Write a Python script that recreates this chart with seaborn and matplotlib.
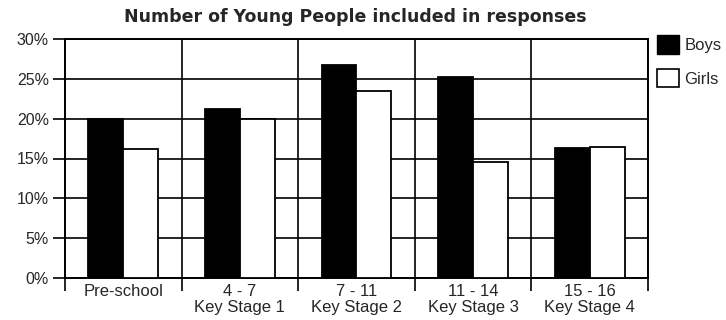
import matplotlib
matplotlib.use("Agg")
import matplotlib.pyplot as plt
import matplotlib.patches as mpatches
import seaborn as sns
import pandas as pd

categories = ["Pre-school", "4 - 7\nKey Stage 1", "7 - 11\nKey Stage 2",
              "11 - 14\nKey Stage 3", "15 - 16\nKey Stage 4"]
boys = [20.0, 21.2, 26.7, 25.2, 16.3]
girls = [16.2, 19.9, 23.5, 14.6, 16.4]
y_ticks = [0, 5, 10, 15, 20, 25, 30]
y_labels = ["0%", "5%", "10%", "15%", "20%", "25%", "30%"]

df = pd.DataFrame({
    "Stage": categories * 2,
    "Percent": boys + girls,
    "Sex": ["Boys"] * len(boys) + ["Girls"] * len(girls),
})

sns.set_style("white")
plt.rcParams["font.family"] = ["Liberation Sans", "DejaVu Sans"]

fig = plt.figure(figsize=(7.26, 3.2), dpi=100)
ax = fig.add_axes([65 / 726, 1 - 278 / 320, 583 / 726, 239 / 320])

sns.barplot(data=df, x="Stage", y="Percent", hue="Sex", order=categories,
            hue_order=["Boys", "Girls"], palette={"Boys": "black", "Girls": "white"},
            width=0.6, edgecolor="black", linewidth=1.3, saturation=1,
            legend=False, ax=ax, zorder=3)

n = len(categories)
ax.set_xlim(-0.5, n - 0.5)
ax.set_ylim(0, 30)

# boundaries between stages carry the vertical grid and the outward ticks
bounds = [i - 0.5 for i in range(n + 1)]
ax.set_xticks(bounds)
ax.set_xticklabels([""] * len(bounds))
ax.set_xticks(range(n), minor=True)
ax.set_xticklabels(categories, minor=True, fontsize=12, linespacing=1.1)
ax.tick_params(axis="x", which="major", direction="out", length=9, width=1.2,
               color="black", bottom=True)
ax.tick_params(axis="x", which="minor", length=0, pad=4, bottom=True)

ax.set_yticks(y_ticks)
ax.set_yticklabels(y_labels, fontsize=11.5)
ax.tick_params(axis="y", direction="out", length=8.5, width=1.2, color="black",
               left=True, pad=3)

ax.set_axisbelow(True)
ax.grid(True, which="major", color="black", linewidth=1.2)
for s in ax.spines.values():
    s.set_visible(True)
    s.set_color("black")
    s.set_linewidth(1.4)

ax.set_xlabel("")
ax.set_ylabel("")

fig.text(355 / 726, 1 - 17 / 320, "Number of Young People included in responses",
         ha="center", va="center", fontsize=12.5, fontweight="bold",
         family="DejaVu Sans")

handles = [mpatches.Patch(facecolor="black", edgecolor="black", label="Boys"),
           mpatches.Patch(facecolor="white", edgecolor="black", linewidth=1.2,
                          label="Girls")]
fig.legend(handles=handles, loc="upper left", bbox_to_anchor=(657 / 726, 1 - 35 / 320),
           frameon=False, fontsize=12, handlelength=1.3, handleheight=1.35,
           handletextpad=0.35, labelspacing=0.9, borderaxespad=0, borderpad=0)

fig.savefig("out.png", dpi=100)
